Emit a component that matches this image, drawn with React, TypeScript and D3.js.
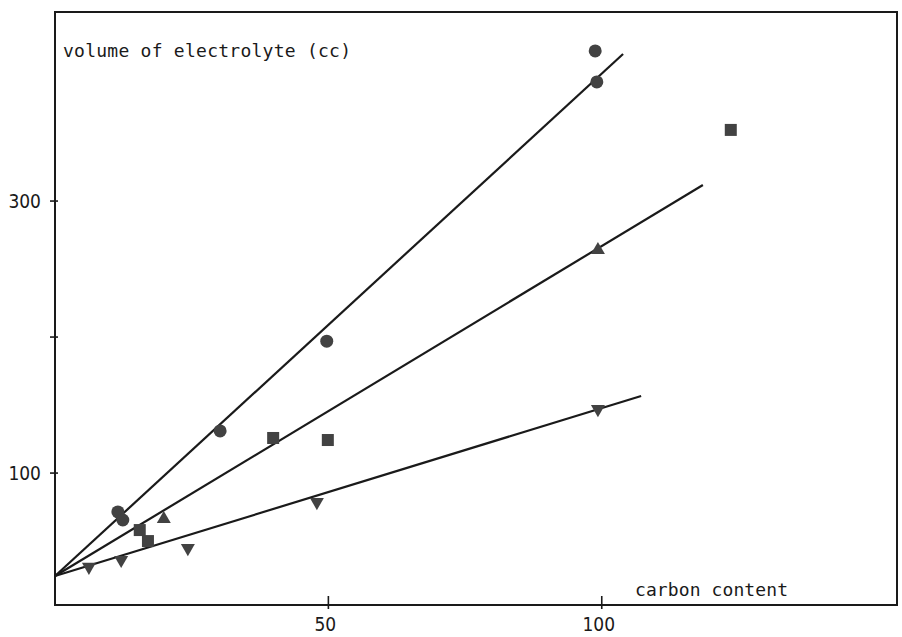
import React from "react";
import * as d3 from "d3";

// ---- data ----
const circleX = [11.5, 12.4, 30.2, 49.7, 99.1, 98.8];
const circleY = [71.4, 65.5, 131, 197, 387.6, 410.4];

const squareX = [15.5, 17.0, 39.9, 49.9, 123.6];
const squareY = [58.1, 50, 125.8, 124.3, 352.3];

const triUpX = [19.9, 99.3];
const triUpY = [66.2, 264];

const triDownX = [6.2, 12.1, 24.3, 47.9, 99.3];
const triDownY = [31, 36.1, 44.9, 78.7, 147.1];

// fitted lines: all start at x=0, y=lineStartY
const lineStartY = 24.3;
const lineEndX = [103.9, 118.5, 107.2];
const lineEndY = [408.1, 311.8, 156.7];

const yTicks = [100, 200, 300];
const yTickLabels = ["100", "", "300"];
const xTicks = [50, 100];
const xTickLabels = ["50", "100"];

const yAxisTitle = "volume of electrolyte (cc)";
const xAxisTitle = "carbon content";

const W = 902;
const H = 637;
const left = 55, right = 897, top = 12, bottom = 605;

export default function App() {
  const x = d3.scaleLinear().domain([0, 154]).range([left, right]);
  const y = d3.scaleLinear().domain([3, 439]).range([bottom, top]);
  const ink = "#1a1a1a";
  const markFill = "#424242";
  const monoFont = "'DejaVu Sans Mono', monospace";
  const numFont = "'DejaVu Sans Condensed', 'DejaVu Sans', sans-serif";

  const line = d3.line<[number, number]>().x((d) => x(d[0])).y((d) => y(d[1]));

  const tri = (cx: number, cy: number, s: number, up: boolean) => {
    const h = s * 0.87;
    const dir = up ? 1 : -1;
    return `M${cx},${cy - dir * (h * 2) / 3} L${cx - s / 2},${cy + dir * h / 3} L${cx + s / 2},${cy + dir * h / 3} Z`;
  };

  return (
    <svg
      width={W}
      height={H}
      style={{ position: "absolute", left: 0, top: 0, background: "#fff" }}
    >
      <rect x={0} y={0} width={W} height={H} fill="#fff" />
      {/* frame */}
      <rect
        x={left}
        y={top}
        width={right - left}
        height={bottom - top}
        fill="none"
        stroke={ink}
        strokeWidth={2}
      />
      {/* y ticks */}
      {yTicks.map((t, i) => (
        <g key={"yt" + i}>
          <line x1={left - 5} x2={left + 3} y1={y(t)} y2={y(t)} stroke={ink} strokeWidth={1.6} />
          {yTickLabels[i] && (
            <text
              x={left - 14}
              y={y(t) + 7}
              textAnchor="end"
              fontFamily={numFont}
              fontSize={19}
              style={{ fontStretch: "condensed" }}
              fill={ink}
            >
              {yTickLabels[i]}
            </text>
          )}
        </g>
      ))}
      {/* x ticks */}
      {xTicks.map((t, i) => (
        <g key={"xt" + i}>
          <line x1={x(t)} x2={x(t)} y1={bottom - 9} y2={bottom + 4} stroke={ink} strokeWidth={1.6} />
          <text
            x={x(t) - 3}
            y={bottom + 26}
            textAnchor="middle"
            fontFamily={numFont}
            fontSize={19}
            style={{ fontStretch: "condensed" }}
            fill={ink}
          >
            {xTickLabels[i]}
          </text>
        </g>
      ))}
      {/* axis titles */}
      <text x={63} y={57} fontFamily={monoFont} fontSize={18} letterSpacing={0.25} fill={ink}>
        {yAxisTitle}
      </text>
      <text x={635} y={596} fontFamily={monoFont} fontSize={18} letterSpacing={0.1} fill={ink}>
        {xAxisTitle}
      </text>
      {/* fitted lines */}
      {lineEndX.map((ex, i) => (
        <path
          key={"l" + i}
          d={line([
            [0, lineStartY],
            [ex, lineEndY[i]],
          ]) as string}
          fill="none"
          stroke={ink}
          strokeWidth={2.2}
        />
      ))}
      {/* markers */}
      {circleX.map((cx, i) => (
        <circle key={"c" + i} cx={x(cx)} cy={y(circleY[i])} r={6.5} fill={markFill} />
      ))}
      {squareX.map((sx, i) => (
        <rect
          key={"s" + i}
          x={x(sx) - 6}
          y={y(squareY[i]) - 6}
          width={12}
          height={12}
          fill={markFill}
        />
      ))}
      {triUpX.map((tx, i) => (
        <path key={"tu" + i} d={tri(x(tx), y(triUpY[i]), 14, true)} fill={markFill} />
      ))}
      {triDownX.map((tx, i) => (
        <path key={"td" + i} d={tri(x(tx), y(triDownY[i]), 14, false)} fill={markFill} />
      ))}
    </svg>
  );
}
